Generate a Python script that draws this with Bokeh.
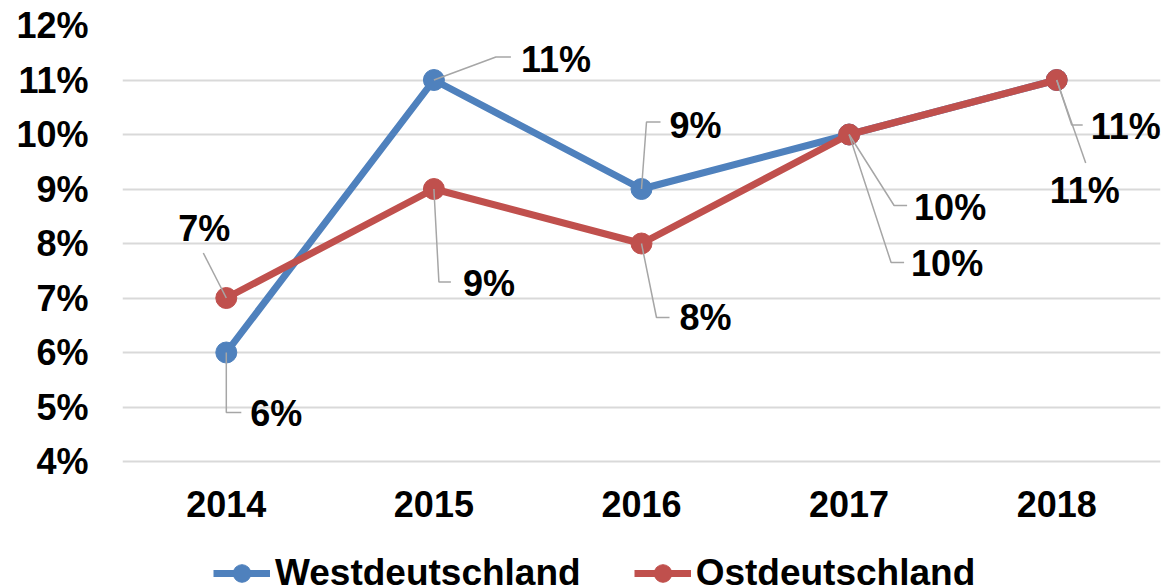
from bokeh.plotting import figure
from bokeh.models import Range1d, FixedTicker, PrintfTickFormatter, Legend, LegendItem, ColumnDataSource
from bokeh.embed import file_html
from bokeh.resources import INLINE
from bokeh.core.properties import value

# ---- data ----
years = ["2014", "2015", "2016", "2017", "2018"]
west = [6, 11, 9, 10, 11]
ost = [7, 9, 8, 10, 11]
west_labels = ["6%", "11%", "9%", "10%", "11%"]
ost_labels = ["7%", "9%", "8%", "10%", "11%"]
y_ticks = [4, 5, 6, 7, 8, 9, 10, 11, 12]

# ---- layout / style ----
BLUE = "#4F81BD"
RED = "#C0504D"
GRID = "#D9D9D9"
LEADER = "#A6A6A6"
FONT = "Liberation Sans"
FS = "36px"

W, H = 1167, 585
BL, BR, BT = 122, 7, 25
AXIS_PX = 436            # pixel height of the 4%..12% band
BELOW_PX = H - BT - AXIS_PX  # frame space under 4% (axis labels + legend)
frame_w = W - BL - BR
px_x = frame_w / len(years)
px_y = AXIS_PX / (y_ticks[-1] - y_ticks[0])
y_start = y_ticks[0] - BELOW_PX / px_y

# label placement (screen px offsets from point: right +, down +)
west_leaders = [[(0, 0), (0, 60), (15, 60)],
                [(0, 0), (62, -23), (77, -23)],
                [(0, 0), (5, -67), (19, -67)],
                [(0, 0), (45, 71), (58, 71)],
                [(0, 0), (15, 45), (26, 45)]]
west_label_pos = [(24, 61, "left"), (87, -21, "left"), (28, -64, "left"),
                  (65, 73, "left"), (34, 46, "left")]
ost_leaders = [[(0, 0), (-23, -45)],
               [(0, 0), (5, 93), (17, 93)],
               [(0, 0), (15, 74), (28, 74)],
               [(0, 0), (42, 128), (55, 128)],
               [(0, 0), (29, 83)]]
ost_label_pos = [(-22, -70, "center"), (29, 94, "left"), (38, 74, "left"),
                 (62, 129, "left"), (28, 110, "center")]

xs = list(range(len(years)))

p = figure(width=W, height=H, output_backend="svg", toolbar_location=None,
           x_range=Range1d(-0.5, len(years) - 0.5),
           y_range=Range1d(y_start, y_ticks[-1]),
           min_border_left=BL, min_border_right=BR,
           min_border_top=BT, min_border_bottom=0)
p.outline_line_color = None
p.background_fill_color = "white"
p.border_fill_color = "white"
p.xgrid.visible = False
p.ygrid.grid_line_color = GRID
p.ygrid.grid_line_width = 2

p.yaxis.ticker = FixedTicker(ticks=y_ticks)
p.yaxis.formatter = PrintfTickFormatter(format="%d%%")
p.xaxis.ticker = FixedTicker(ticks=xs)
p.xaxis.major_label_overrides = {i: y for i, y in enumerate(years)}
p.xaxis.fixed_location = y_ticks[0]
for ax in (p.xaxis, p.yaxis):
    ax.axis_line_color = None
    ax.major_tick_line_color = None
    ax.minor_tick_line_color = None
    ax.major_label_text_font = FONT
    ax.major_label_text_font_size = FS
    ax.major_label_text_font_style = "bold"
    ax.major_label_text_color = "black"
p.yaxis.major_label_standoff = 28
p.xaxis.major_label_standoff = 23

# series
rw_line = p.line(xs, west, color=BLUE, line_width=7, line_join="round")
rw_pts = p.scatter(xs, west, size=21, color=BLUE)
ro_line = p.line(xs, ost, color=RED, line_width=7, line_join="round")
ro_pts = p.scatter(xs, ost, size=21, color=RED)

# leader lines and labels
def add_labels(vals, labels, leaders, pos):
    lx, ly = [], []
    for i, (v, poly) in enumerate(zip(vals, leaders)):
        lx.append([xs[i] + dx / px_x for dx, dy in poly])
        ly.append([v - dy / px_y for dx, dy in poly])
    p.multi_line(lx, ly, line_color=LEADER, line_width=1.5)
    for align in ("left", "center"):
        idx = [i for i in range(len(vals)) if pos[i][2] == align]
        if not idx:
            continue
        src = ColumnDataSource(dict(
            x=[xs[i] for i in idx], y=[vals[i] for i in idx],
            t=[labels[i] for i in idx],
            dx=[pos[i][0] for i in idx], dy=[pos[i][1] for i in idx]))
        p.text("x", "y", text="t", x_offset="dx", y_offset="dy", source=src,
               text_align=align, text_baseline="middle",
               text_font=value(FONT), text_font_size=FS,
               text_font_style="bold", text_color="black")

add_labels(west, west_labels, west_leaders, west_label_pos)
add_labels(ost, ost_labels, ost_leaders, ost_label_pos)

legend = Legend(items=[LegendItem(label="Westdeutschland", renderers=[rw_line, rw_pts]),
                       LegendItem(label="Ostdeutschland", renderers=[ro_line, ro_pts])],
                orientation="horizontal", location=(91, -10),
                glyph_width=57, glyph_height=44, label_standoff=5, spacing=53,
                padding=0, margin=0, border_line_alpha=0, background_fill_alpha=0,
                label_text_font=FONT, label_text_font_size="37px",
                label_text_font_style="bold", label_text_color="black")
p.add_layout(legend)

open("out.html", "w").write(file_html(p, INLINE))
